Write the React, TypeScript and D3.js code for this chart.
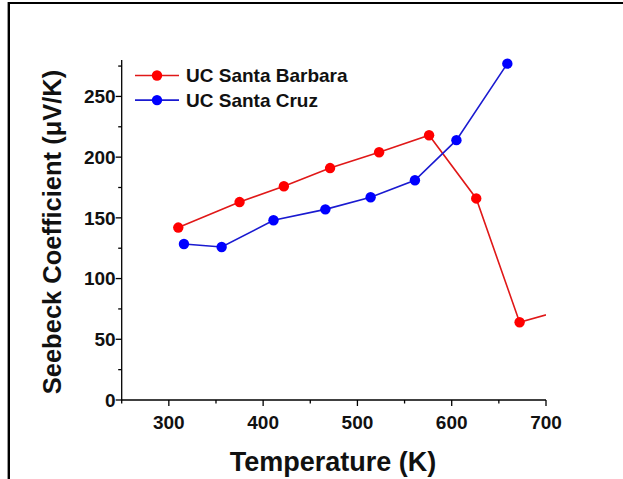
import React from "react";
import * as d3 from "d3";

const barbaraT = [310, 375, 422, 471, 523, 576, 626, 672, 725];
const barbaraS = [142, 163, 176, 191, 204, 218, 166, 64, 75.5];
const cruzT = [316, 356, 411, 466, 514, 561, 605, 659];
const cruzS = [128.5, 126, 148, 157, 167, 181, 214, 277];
const xTicks = [300, 400, 500, 600, 700];
const xMinor = [250, 350, 450, 550, 650];
const yTicks = [0, 50, 100, 150, 200, 250];
const yMinor = [25, 75, 125, 175, 225, 275];
const seriesNames = ["UC Santa Barbara", "UC Santa Cruz"];
const xTitle = "Temperature (K)";
const yTitle = "Seebeck Coefficient (\u03bcV/K)";

const W = 623, H = 479;
const FONT = "'Liberation Sans', Arial, sans-serif";

export default function App() {
  const x = d3.scaleLinear().domain([250, 700]).range([121.7, 546]);
  const y = d3.scaleLinear().domain([0, 280]).range([400, 60]);
  const line = d3.line<[number, number]>().x(d => x(d[0])).y(d => y(d[1]));
  const series = [
    { name: seriesNames[0], color: "#ff0000", line: "#e01818", pts: barbaraT.map((t, i) => [t, barbaraS[i]] as [number, number]) },
    { name: seriesNames[1], color: "#0000ff", line: "#1a1ad0", pts: cruzT.map((t, i) => [t, cruzS[i]] as [number, number]) },
  ];
  const [x0, x1] = x.range();
  const [y0, y1] = y.range();
  return (
    <svg width={W} height={H} style={{ position: "absolute", left: 0, top: 0, background: "#fff" }} fontFamily={FONT}>
      <defs>
        <clipPath id="plot">
          <rect x={x0} y={0} width={x1 - x0} height={y0} />
        </clipPath>
      </defs>
      <rect width={W} height={H} fill="#fff" />
      {/* frame */}
      <line x1={8} x2={W} y1={3} y2={3} stroke="#000" strokeWidth={2.2} />
      <line x1={8.8} x2={8.8} y1={2} y2={H} stroke="#000" strokeWidth={2.4} />

      {/* axes */}
      <line x1={x0} x2={x1} y1={y0} y2={y0} stroke="#000" strokeWidth={1.3} />
      <line x1={x0} x2={x0} y1={y0} y2={y1} stroke="#000" strokeWidth={1.3} />
      {xTicks.map(t => (
        <g key={"xt" + t}>
          <line x1={x(t)} x2={x(t)} y1={y0} y2={y0 + 6} stroke="#000" strokeWidth={1.3} />
          <text x={x(t)} y={429} textAnchor="middle" fontSize={19} fontWeight="bold" fill="#111">{t}</text>
        </g>
      ))}
      {xMinor.map(t => (
        <line key={"xm" + t} x1={x(t)} x2={x(t)} y1={y0} y2={y0 + 3.5} stroke="#000" strokeWidth={1.3} />
      ))}
      {yTicks.map(t => (
        <g key={"yt" + t}>
          <line x1={x0 - 6} x2={x0} y1={y(t)} y2={y(t)} stroke="#000" strokeWidth={1.3} />
          <text x={x0 - 6} y={y(t)} dy="0.36em" textAnchor="end" fontSize={19} fontWeight="bold" fill="#111">{t}</text>
        </g>
      ))}
      {yMinor.map(t => (
        <line key={"ym" + t} x1={x0 - 3.5} x2={x0} y1={y(t)} y2={y(t)} stroke="#000" strokeWidth={1.3} />
      ))}

      {/* titles */}
      <text x={333} y={471} textAnchor="middle" fontSize={27} fontWeight="bold" fill="#111">{xTitle}</text>
      <text transform={`translate(61, ${(y0 + y1) / 2 + 2}) rotate(-90)`} textAnchor="middle" fontSize={25.5} fontWeight="bold" fill="#111">{yTitle}</text>

      {/* series */}
      <g clipPath="url(#plot)">
        {series.map(s => (
          <g key={s.name}>
            <path d={line(s.pts) || ""} fill="none" stroke={s.line} strokeWidth={1.6} />
            {s.pts.map((p, i) => (
              <circle key={i} cx={x(p[0])} cy={y(p[1])} r={5.2} fill={s.color} />
            ))}
          </g>
        ))}
      </g>

      {/* legend */}
      {series.map((s, i) => {
        const ly = 75.5 + i * 24.6;
        return (
          <g key={"lg" + i}>
            <line x1={135} x2={179} y1={ly} y2={ly} stroke={s.line} strokeWidth={1.6} />
            <circle cx={157} cy={ly} r={5.2} fill={s.color} />
            <text x={186} y={ly} dy="0.36em" fontSize={19} fontWeight="bold" fill="#111">{s.name}</text>
          </g>
        );
      })}
    </svg>
  );
}
